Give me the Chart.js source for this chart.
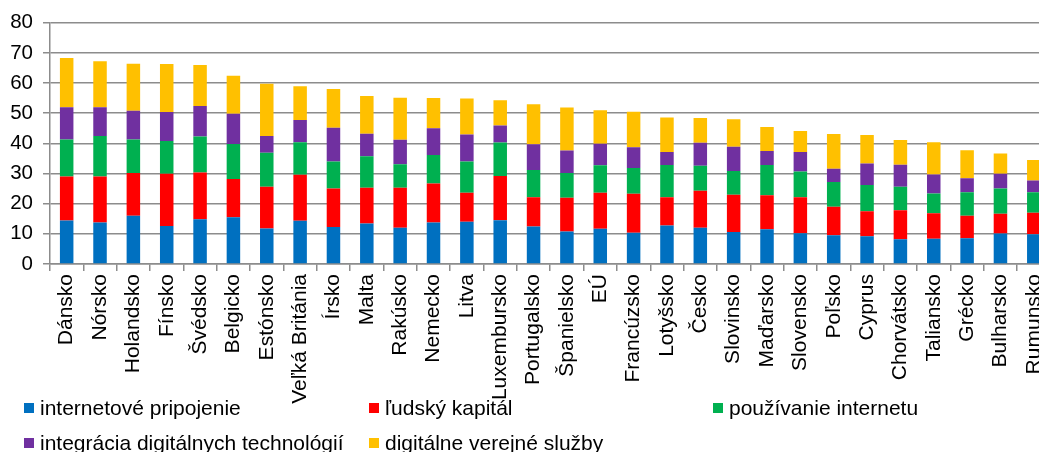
<!DOCTYPE html>
<html>
<head>
<meta charset="utf-8">
<script src="https://cdn.jsdelivr.net/npm/chart.js@4/dist/chart.umd.min.js"></script>
<style>
  html, body { margin: 0; padding: 0; background: #fff; overflow: hidden; width: 1039px; height: 452px; }
  #wrap { position: absolute; left: 0; top: 0; width: 1062px; height: 452px; }
  .lg { position: absolute; font-family: "Liberation Sans", Arial, sans-serif; font-size: 21px; line-height: 24px; color: #000; white-space: nowrap; }
  .sq { position: absolute; width: 10px; height: 10px; }
</style>
</head>
<body>
<div id="wrap"><canvas id="c"></canvas></div>
<div id="legend"></div>
<script>
const categories = ["Dánsko","Nórsko","Holandsko","Fínsko","Švédsko","Belgicko","Estónsko","Veľká Británia","Írsko","Malta","Rakúsko","Nemecko","Litva","Luxembursko","Portugalsko","Španielsko","EÚ","Francúzsko","Lotyšsko","Česko","Slovinsko","Maďarsko","Slovensko","Poľsko","Cyprus","Chorvátsko","Taliansko","Grécko","Bulharsko","Rumunsko"];
const seriesNames = ["internetové pripojenie","ľudský kapitál","používanie internetu","integrácia digitálnych technológií","digitálne verejné služby"];
const connectivity = [14.4,13.8,16.0,12.6,14.8,15.5,11.8,14.3,12.3,13.4,12.0,13.8,14.0,14.5,12.4,10.8,11.7,10.4,12.8,12.0,10.6,11.5,10.2,9.5,9.2,8.2,8.4,8.5,10.1,9.9];
const humanCapital = [14.6,15.2,14.2,17.3,15.5,12.7,13.8,15.3,12.7,11.9,13.3,12.9,9.6,14.7,9.7,11.2,11.9,12.9,9.3,12.3,12.4,11.3,11.9,9.5,8.3,9.6,8.4,7.5,6.6,7.1];
const internetUse = [12.3,13.4,11.1,10.9,12.0,11.6,11.3,10.8,9.0,10.4,7.8,9.4,10.4,11.1,9.1,8.2,9.1,8.5,10.7,8.3,7.8,10.0,8.6,8.2,8.7,7.8,6.6,7.8,8.3,6.8];
const integration = [10.7,9.6,9.5,9.6,10.1,10.0,5.5,7.3,11.2,7.5,8.1,8.9,8.9,5.6,8.5,7.4,7.2,6.9,4.3,7.6,8.1,4.7,6.4,4.4,7.1,7.3,6.3,4.6,4.9,3.9];
const publicServices = [16.3,15.2,15.6,15.9,13.6,12.6,17.4,11.2,12.8,12.5,13.9,10.0,12.0,8.4,13.3,14.3,11.1,11.8,11.5,8.2,9.1,7.9,7.0,11.5,9.5,8.2,10.7,9.3,6.7,6.8];
const yTicks = [0,10,20,30,40,50,60,70,80];

const colors = ["#0070C0","#FF0000","#00B050","#7030A0","#FFC000"];
const seriesData = [connectivity, humanCapital, internetUse, integration, publicServices];

const FONT_Y = { family: "'Liberation Sans', Arial, sans-serif", size: 20.5 };
const FONT_X = { family: "'Liberation Sans', Arial, sans-serif", size: 21 };
const GRID = "#8c8c8c";

new Chart(document.getElementById("c"), {
  type: "bar",
  data: {
    labels: categories,
    datasets: seriesData.map((d, i) => ({
      label: seriesNames[i],
      data: d,
      backgroundColor: colors[i],
      borderWidth: 0,
      barPercentage: 0.405,
      categoryPercentage: 1.0
    }))
  },
  options: {
    responsive: true,
    maintainAspectRatio: false,
    animation: false,
    layout: { padding: { top: 22.7, left: 0, right: 0, bottom: 0 } },
    plugins: { legend: { display: false }, tooltip: { enabled: false } },
    scales: {
      x: {
        stacked: true,
        offset: true,
        grid: { display: true, drawOnChartArea: false, drawTicks: true, tickLength: 7, color: GRID, lineWidth: 1.5, offset: true },
        border: { display: true, color: GRID, width: 1.5 },
        ticks: { color: "#000", font: FONT_X, minRotation: 90, maxRotation: 90, autoSkip: false, padding: 3 },
        afterFit: (s) => { s.height = 188; }
      },
      y: {
        stacked: true,
        min: 0, max: 80,
        afterBuildTicks: (s) => { s.ticks = yTicks.map(v => ({ value: v })); },
        grid: { color: GRID, lineWidth: 1.5, drawTicks: true, tickLength: 7 },
        border: { display: true, color: GRID, width: 1.5 },
        ticks: { color: "#000", font: FONT_Y, padding: 10 },
        afterFit: (s) => { s.width = 50; }
      }
    }
  }
});

// Legend (grid layout as in the reference)
const legendPos = [
  { x: 24, y: 396 }, { x: 369, y: 396 }, { x: 713, y: 396 },
  { x: 24, y: 431 }, { x: 369, y: 431 }
];
const lg = document.getElementById("legend");
seriesNames.forEach((name, i) => {
  const p = legendPos[i];
  const sq = document.createElement("div");
  sq.className = "sq";
  sq.style.left = p.x + "px";
  sq.style.top = (p.y + 7) + "px";
  sq.style.background = colors[i];
  lg.appendChild(sq);
  const t = document.createElement("div");
  t.className = "lg";
  t.style.left = (p.x + 16) + "px";
  t.style.top = p.y + "px";
  t.textContent = name;
  lg.appendChild(t);
});
</script>
</body>
</html>
